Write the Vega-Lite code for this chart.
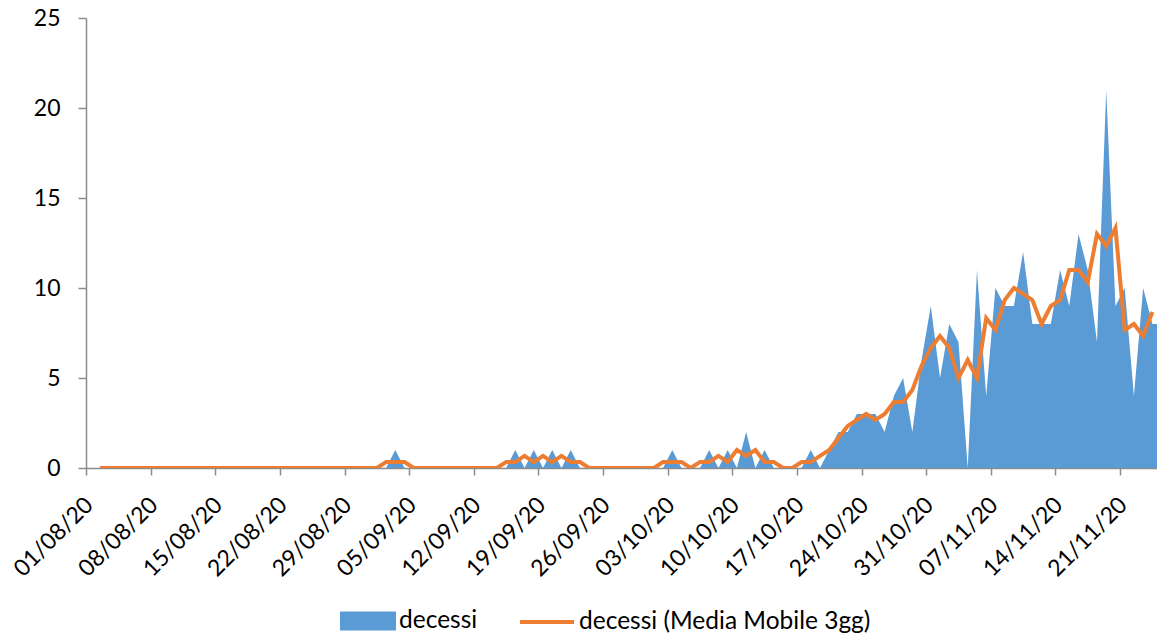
{
  "$schema": "https://vega.github.io/schema/vega-lite/v6.json",
  "width": 1071,
  "height": 450,
  "autosize": {"type": "none"},
  "padding": {"left": 86, "top": 18, "right": 0, "bottom": 168},
  "background": "white",
  "config": {
    "view": {"stroke": null},
    "font": "Lato",
    "axis": {"labelFont": "Lato", "labelColor": "black", "domainColor": "#8c8c8c", "tickColor": "#8c8c8c", "domainWidth": 1.5, "tickWidth": 1.5, "grid": false, "title": null},
    "legend": {"padding": 0, "titlePadding": 0}
  },
  "data": {
    "format": {"parse": {"data": "utc:'%Y-%m-%d'"}},
    "values": [
      {"data": "2020-08-01", "decessi": 0, "media": null},
      {"data": "2020-08-02", "decessi": 0, "media": 0},
      {"data": "2020-08-03", "decessi": 0, "media": 0},
      {"data": "2020-08-04", "decessi": 0, "media": 0},
      {"data": "2020-08-05", "decessi": 0, "media": 0},
      {"data": "2020-08-06", "decessi": 0, "media": 0},
      {"data": "2020-08-07", "decessi": 0, "media": 0},
      {"data": "2020-08-08", "decessi": 0, "media": 0},
      {"data": "2020-08-09", "decessi": 0, "media": 0},
      {"data": "2020-08-10", "decessi": 0, "media": 0},
      {"data": "2020-08-11", "decessi": 0, "media": 0},
      {"data": "2020-08-12", "decessi": 0, "media": 0},
      {"data": "2020-08-13", "decessi": 0, "media": 0},
      {"data": "2020-08-14", "decessi": 0, "media": 0},
      {"data": "2020-08-15", "decessi": 0, "media": 0},
      {"data": "2020-08-16", "decessi": 0, "media": 0},
      {"data": "2020-08-17", "decessi": 0, "media": 0},
      {"data": "2020-08-18", "decessi": 0, "media": 0},
      {"data": "2020-08-19", "decessi": 0, "media": 0},
      {"data": "2020-08-20", "decessi": 0, "media": 0},
      {"data": "2020-08-21", "decessi": 0, "media": 0},
      {"data": "2020-08-22", "decessi": 0, "media": 0},
      {"data": "2020-08-23", "decessi": 0, "media": 0},
      {"data": "2020-08-24", "decessi": 0, "media": 0},
      {"data": "2020-08-25", "decessi": 0, "media": 0},
      {"data": "2020-08-26", "decessi": 0, "media": 0},
      {"data": "2020-08-27", "decessi": 0, "media": 0},
      {"data": "2020-08-28", "decessi": 0, "media": 0},
      {"data": "2020-08-29", "decessi": 0, "media": 0},
      {"data": "2020-08-30", "decessi": 0, "media": 0},
      {"data": "2020-08-31", "decessi": 0, "media": 0},
      {"data": "2020-09-01", "decessi": 0, "media": 0},
      {"data": "2020-09-02", "decessi": 0, "media": 0.33},
      {"data": "2020-09-03", "decessi": 1, "media": 0.33},
      {"data": "2020-09-04", "decessi": 0, "media": 0.33},
      {"data": "2020-09-05", "decessi": 0, "media": 0},
      {"data": "2020-09-06", "decessi": 0, "media": 0},
      {"data": "2020-09-07", "decessi": 0, "media": 0},
      {"data": "2020-09-08", "decessi": 0, "media": 0},
      {"data": "2020-09-09", "decessi": 0, "media": 0},
      {"data": "2020-09-10", "decessi": 0, "media": 0},
      {"data": "2020-09-11", "decessi": 0, "media": 0},
      {"data": "2020-09-12", "decessi": 0, "media": 0},
      {"data": "2020-09-13", "decessi": 0, "media": 0},
      {"data": "2020-09-14", "decessi": 0, "media": 0},
      {"data": "2020-09-15", "decessi": 0, "media": 0.33},
      {"data": "2020-09-16", "decessi": 1, "media": 0.33},
      {"data": "2020-09-17", "decessi": 0, "media": 0.67},
      {"data": "2020-09-18", "decessi": 1, "media": 0.33},
      {"data": "2020-09-19", "decessi": 0, "media": 0.67},
      {"data": "2020-09-20", "decessi": 1, "media": 0.33},
      {"data": "2020-09-21", "decessi": 0, "media": 0.67},
      {"data": "2020-09-22", "decessi": 1, "media": 0.33},
      {"data": "2020-09-23", "decessi": 0, "media": 0.33},
      {"data": "2020-09-24", "decessi": 0, "media": 0},
      {"data": "2020-09-25", "decessi": 0, "media": 0},
      {"data": "2020-09-26", "decessi": 0, "media": 0},
      {"data": "2020-09-27", "decessi": 0, "media": 0},
      {"data": "2020-09-28", "decessi": 0, "media": 0},
      {"data": "2020-09-29", "decessi": 0, "media": 0},
      {"data": "2020-09-30", "decessi": 0, "media": 0},
      {"data": "2020-10-01", "decessi": 0, "media": 0},
      {"data": "2020-10-02", "decessi": 0, "media": 0.33},
      {"data": "2020-10-03", "decessi": 1, "media": 0.33},
      {"data": "2020-10-04", "decessi": 0, "media": 0.33},
      {"data": "2020-10-05", "decessi": 0, "media": 0},
      {"data": "2020-10-06", "decessi": 0, "media": 0.33},
      {"data": "2020-10-07", "decessi": 1, "media": 0.33},
      {"data": "2020-10-08", "decessi": 0, "media": 0.67},
      {"data": "2020-10-09", "decessi": 1, "media": 0.33},
      {"data": "2020-10-10", "decessi": 0, "media": 1},
      {"data": "2020-10-11", "decessi": 2, "media": 0.67},
      {"data": "2020-10-12", "decessi": 0, "media": 1},
      {"data": "2020-10-13", "decessi": 1, "media": 0.33},
      {"data": "2020-10-14", "decessi": 0, "media": 0.33},
      {"data": "2020-10-15", "decessi": 0, "media": 0},
      {"data": "2020-10-16", "decessi": 0, "media": 0},
      {"data": "2020-10-17", "decessi": 0, "media": 0.33},
      {"data": "2020-10-18", "decessi": 1, "media": 0.33},
      {"data": "2020-10-19", "decessi": 0, "media": 0.67},
      {"data": "2020-10-20", "decessi": 1, "media": 1},
      {"data": "2020-10-21", "decessi": 2, "media": 1.67},
      {"data": "2020-10-22", "decessi": 2, "media": 2.33},
      {"data": "2020-10-23", "decessi": 3, "media": 2.67},
      {"data": "2020-10-24", "decessi": 3, "media": 3},
      {"data": "2020-10-25", "decessi": 3, "media": 2.67},
      {"data": "2020-10-26", "decessi": 2, "media": 3},
      {"data": "2020-10-27", "decessi": 4, "media": 3.67},
      {"data": "2020-10-28", "decessi": 5, "media": 3.67},
      {"data": "2020-10-29", "decessi": 2, "media": 4.33},
      {"data": "2020-10-30", "decessi": 6, "media": 5.67},
      {"data": "2020-10-31", "decessi": 9, "media": 6.67},
      {"data": "2020-11-01", "decessi": 5, "media": 7.33},
      {"data": "2020-11-02", "decessi": 8, "media": 6.67},
      {"data": "2020-11-03", "decessi": 7, "media": 5},
      {"data": "2020-11-04", "decessi": 0, "media": 6},
      {"data": "2020-11-05", "decessi": 11, "media": 5},
      {"data": "2020-11-06", "decessi": 4, "media": 8.33},
      {"data": "2020-11-07", "decessi": 10, "media": 7.67},
      {"data": "2020-11-08", "decessi": 9, "media": 9.33},
      {"data": "2020-11-09", "decessi": 9, "media": 10},
      {"data": "2020-11-10", "decessi": 12, "media": 9.67},
      {"data": "2020-11-11", "decessi": 8, "media": 9.33},
      {"data": "2020-11-12", "decessi": 8, "media": 8},
      {"data": "2020-11-13", "decessi": 8, "media": 9},
      {"data": "2020-11-14", "decessi": 11, "media": 9.33},
      {"data": "2020-11-15", "decessi": 9, "media": 11},
      {"data": "2020-11-16", "decessi": 13, "media": 11},
      {"data": "2020-11-17", "decessi": 11, "media": 10.33},
      {"data": "2020-11-18", "decessi": 7, "media": 13},
      {"data": "2020-11-19", "decessi": 21, "media": 12.33},
      {"data": "2020-11-20", "decessi": 9, "media": 13.33},
      {"data": "2020-11-21", "decessi": 10, "media": 7.67},
      {"data": "2020-11-22", "decessi": 4, "media": 8},
      {"data": "2020-11-23", "decessi": 10, "media": 7.33},
      {"data": "2020-11-24", "decessi": 8, "media": 8.67},
      {"data": "2020-11-25", "decessi": 8, "media": null}
    ]
  },
  "encoding": {
    "x": {
      "field": "data",
      "type": "temporal",
      "scale": {
        "type": "utc",
        "nice": false,
        "domain": [
          {"year": 2020, "month": 7, "date": 31, "hours": 12, "utc": true},
          {"year": 2020, "month": 11, "date": 24, "hours": 12, "utc": true}
        ]
      },
      "axis": {
        "values": [
          {"year": 2020, "month": 7, "date": 31, "hours": 12, "utc": true},
          {"year": 2020, "month": 8, "date": 7, "hours": 12, "utc": true},
          {"year": 2020, "month": 8, "date": 14, "hours": 12, "utc": true},
          {"year": 2020, "month": 8, "date": 21, "hours": 12, "utc": true},
          {"year": 2020, "month": 8, "date": 28, "hours": 12, "utc": true},
          {"year": 2020, "month": 9, "date": 4, "hours": 12, "utc": true},
          {"year": 2020, "month": 9, "date": 11, "hours": 12, "utc": true},
          {"year": 2020, "month": 9, "date": 18, "hours": 12, "utc": true},
          {"year": 2020, "month": 9, "date": 25, "hours": 12, "utc": true},
          {"year": 2020, "month": 10, "date": 2, "hours": 12, "utc": true},
          {"year": 2020, "month": 10, "date": 9, "hours": 12, "utc": true},
          {"year": 2020, "month": 10, "date": 16, "hours": 12, "utc": true},
          {"year": 2020, "month": 10, "date": 23, "hours": 12, "utc": true},
          {"year": 2020, "month": 10, "date": 30, "hours": 12, "utc": true},
          {"year": 2020, "month": 11, "date": 6, "hours": 12, "utc": true},
          {"year": 2020, "month": 11, "date": 13, "hours": 12, "utc": true},
          {"year": 2020, "month": 11, "date": 20, "hours": 12, "utc": true}
        ],
        "labelExpr": "utcFormat(datum.value + 43200000, '%d/%m/%y')",
        "labelAngle": -45,
        "labelAlign": "right",
        "labelBaseline": "middle",
        "labelFontSize": 23,
        "tickSize": 7,
        "labelPadding": 26,
        "labelOffset": 3,
        "labelOverlap": false,
        "labelBound": false,
        "labelFlush": false
      }
    }
  },
  "layer": [
    {
      "mark": {"type": "area", "clip": true, "opacity": 1},
      "encoding": {
        "y": {
          "field": "decessi",
          "type": "quantitative",
          "scale": {"domain": [0, 25], "nice": false},
          "axis": {"values": [0, 5, 10, 15, 20, 25], "labelFontSize": 23, "tickSize": 8, "labelPadding": 18}
        },
        "fill": {
          "datum": "decessi",
          "type": "nominal",
          "scale": {"domain": ["decessi"], "range": ["#5B9BD5"]},
          "legend": {
            "orient": "none",
            "legendX": 254,
            "legendY": 575,
            "title": null,
            "labelFont": "Lato",
            "labelFontSize": 24.5,
            "labelColor": "black",
            "labelLimit": 500,
            "symbolType": "M-1,-0.34H1V0.34H-1Z",
            "symbolSize": 3136,
            "symbolStrokeWidth": 0,
            "symbolOpacity": 1,
            "labelOffset": 3
          }
        }
      }
    },
    {
      "mark": {"type": "line", "clip": true, "strokeWidth": 4},
      "encoding": {
        "y": {"field": "media", "type": "quantitative"},
        "stroke": {
          "datum": "decessi (Media Mobile 3gg)",
          "type": "nominal",
          "scale": {"domain": ["decessi (Media Mobile 3gg)"], "range": ["#ED7D31"]},
          "legend": {
            "orient": "none",
            "legendX": 432,
            "legendY": 575,
            "title": null,
            "labelFont": "Lato",
            "labelFontSize": 24.5,
            "labelColor": "black",
            "labelLimit": 500,
            "symbolType": "stroke",
            "symbolSize": 2916,
            "symbolStrokeWidth": 4,
            "labelOffset": 3
          }
        }
      }
    }
  ]
}
